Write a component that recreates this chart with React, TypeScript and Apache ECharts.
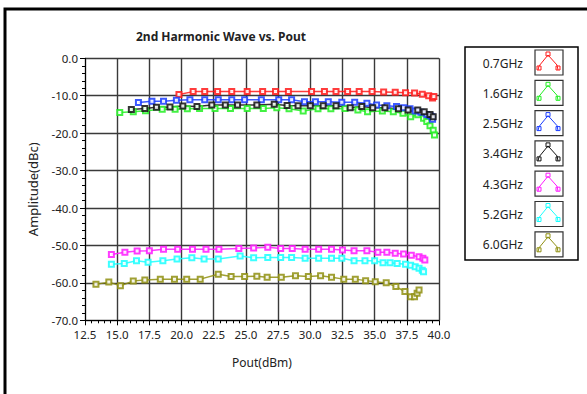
import React, { useEffect, useRef } from "react";
import * as echarts from "echarts";

const seriesNames = ["0.7GHz", "1.6GHz", "2.5GHz", "3.4GHz", "4.3GHz", "5.2GHz", "6.0GHz"];
const seriesColors = ["#ff1a1a", "#22ee22", "#1a3cff", "#111111", "#ff1aff", "#1affff", "#8f8f10"];

const x07 = [19.8, 20.9, 21.8, 22.8, 23.9, 25.1, 26.3, 27.3, 28.3, 30.1, 31.1, 32.0, 32.9, 33.8, 34.8, 35.7, 36.6, 37.4, 38.1, 38.7, 39.2, 39.5, 39.6];
const y07 = [-9.7, -8.9, -8.9, -8.9, -8.9, -8.9, -8.9, -8.9, -8.9, -8.9, -8.9, -8.9, -8.9, -8.9, -8.9, -9.0, -9.1, -9.2, -9.3, -9.6, -10.0, -10.6, -10.2];

const x16 = [15.2, 16.25, 17.2, 18.5, 19.5, 20.45, 21.4, 22.6, 23.8, 25.1, 26.35, 27.4, 28.35, 29.45, 30.6, 31.6, 32.7, 33.7, 34.45, 35.6, 36.45, 37.2, 37.8, 38.35, 38.8, 39.05, 39.3, 39.55, 39.65];
const y16 = [-14.5, -14.3, -14.0, -13.6, -13.6, -13.5, -13.4, -13.4, -13.4, -13.4, -13.4, -13.2, -13.5, -14.1, -13.5, -13.5, -13.4, -13.8, -14.3, -14.1, -14.3, -14.7, -15.6, -15.1, -16.0, -16.9, -18.0, -19.2, -20.5];

const x25 = [16.65, 17.7, 18.6, 19.6, 20.65, 21.8, 22.85, 23.9, 24.9, 26.2, 27.55, 28.55, 29.55, 30.4, 31.4, 32.45, 33.45, 34.4, 35.15, 35.95, 36.7, 37.25, 37.75, 38.15, 38.6, 39.05, 39.3, 39.45, 39.5];
const y25 = [-11.8, -11.5, -11.5, -11.2, -11.1, -11.1, -11.1, -11.1, -11.1, -11.1, -11.1, -11.1, -11.6, -11.6, -11.6, -11.75, -11.75, -12.0, -12.5, -12.7, -12.9, -13.2, -13.5, -14.1, -14.4, -15.0, -15.3, -15.6, -16.3];

const x34 = [16.1, 17.15, 18.05, 19.1, 20.1, 21.2, 22.35, 23.4, 24.35, 25.85, 27.2, 28.2, 29.05, 30.0, 31.0, 32.0, 33.1, 34.0, 34.85, 35.8, 36.85, 37.6, 38.35, 38.85, 39.3, 39.55];
const y34 = [-13.7, -13.4, -13.1, -13.0, -12.75, -12.9, -12.5, -12.5, -12.5, -12.5, -12.3, -12.6, -12.7, -12.7, -12.7, -12.7, -13.2, -12.9, -13.2, -13.2, -13.5, -13.8, -13.8, -14.3, -15.0, -15.6];

const x43 = [14.55, 15.6, 16.55, 17.5, 18.6, 19.7, 20.85, 21.9, 22.9, 24.45, 25.6, 26.7, 27.7, 28.6, 29.6, 30.65, 31.65, 32.5, 33.4, 34.4, 35.25, 35.95, 36.6, 37.25, 37.85, 38.45, 38.75, 38.9];
const y43 = [-52.4, -51.8, -51.5, -51.4, -51.0, -51.0, -51.0, -51.0, -51.0, -50.8, -50.7, -50.5, -50.8, -50.8, -51.0, -51.0, -51.0, -51.2, -51.4, -51.4, -51.8, -51.8, -52.1, -52.3, -52.6, -53.0, -53.4, -53.9];

const x52 = [14.55, 15.55, 16.5, 17.4, 18.55, 19.65, 20.8, 21.75, 22.85, 24.55, 25.6, 26.7, 27.7, 28.55, 29.6, 30.65, 31.65, 32.45, 33.4, 34.25, 35.0, 35.65, 36.2, 36.75, 37.4, 37.8, 38.15, 38.45, 38.7, 38.8];
const y52 = [-55.0, -54.8, -54.1, -54.5, -54.1, -53.6, -53.3, -53.6, -53.6, -52.8, -53.3, -53.2, -53.2, -53.2, -53.4, -53.4, -53.4, -53.4, -54.1, -54.1, -54.1, -54.6, -54.6, -54.8, -55.0, -55.3, -55.7, -56.1, -56.6, -57.0];

const x60 = [13.35, 14.35, 15.25, 16.25, 17.15, 18.35, 19.45, 20.4, 21.45, 22.85, 23.85, 24.9, 25.85, 26.65, 27.75, 28.85, 29.85, 30.8, 31.65, 32.6, 33.5, 34.3, 35.05, 35.9, 36.65, 37.35, 37.8, 38.1, 38.3, 38.45];
const y60 = [-60.4, -59.8, -60.8, -59.5, -59.2, -59.0, -59.0, -59.0, -59.0, -57.7, -58.3, -58.3, -58.2, -58.5, -58.5, -58.1, -58.3, -58.1, -58.5, -59.0, -59.0, -59.4, -59.7, -60.0, -61.0, -62.3, -63.7, -63.7, -62.8, -61.9];

const seriesX = [x07, x16, x25, x34, x43, x52, x60];
const seriesY = [y07, y16, y25, y34, y43, y52, y60];

const xAxisName = "Pout(dBm)";
const yAxisName = "Amplitude(dBc)";
const chartTitle = "2nd Harmonic Wave vs. Pout";

const FONT = "'Noto Sans', 'Open Sans', sans-serif";

export default function App() {
  const ref = useRef<HTMLDivElement>(null);
  useEffect(() => {
    if (!ref.current) return;
    const chart = echarts.init(ref.current, null, { renderer: "svg" });

    const legendX = 465;
    const legendY = 47;
    const rowH = 30.3;
    const legendChildren: any[] = [
      {
        type: "rect",
        shape: { x: legendX, y: legendY, width: 113, height: 213 },
        style: { fill: "#fff", stroke: "#000", lineWidth: 1.5 },
      },
    ];
    seriesNames.forEach((name, i) => {
      const cy = legendY + 16 + i * rowH;
      const color = seriesColors[i];
      legendChildren.push({
        type: "text",
        style: {
          text: name,
          x: 523,
          y: cy,
          align: "right",
          verticalAlign: "middle",
          fill: "#222",
          font: `12px ${FONT}`,
        },
      });
      const bx = 535;
      const by = cy - 13;
      legendChildren.push({
        type: "rect",
        shape: { x: bx, y: by, width: 28, height: 25 },
        style: { fill: "#fff", stroke: "#333", lineWidth: 1.2 },
      });
      const pts = [
        [bx + 3, by + 20],
        [bx + 4, by + 16],
        [bx + 13, by + 5],
        [bx + 22, by + 15],
        [bx + 23, by + 20],
      ];
      legendChildren.push({
        type: "polyline",
        shape: { points: pts },
        style: { stroke: color, lineWidth: 1, fill: "none" },
      });
      [[bx + 4, by + 18], [bx + 13, by + 4], [bx + 23, by + 18]].forEach((p) => {
        legendChildren.push({
          type: "rect",
          shape: { x: p[0] - 2, y: p[1] - 2, width: 4, height: 4 },
          style: { fill: "none", stroke: color, lineWidth: 1 },
        });
      });
    });

    const option: any = {
      animation: false,
      backgroundColor: "#fff",
      title: {
        text: chartTitle,
        left: 216,
        top: 25,
        textAlign: "center",
        textStyle: { fontFamily: FONT, fontSize: 12, fontWeight: "bold", color: "#222" },
      },
      grid: { left: 85, right: 148, top: 58.3, bottom: 73.7 },
      xAxis: {
        type: "value",
        min: 12.5,
        max: 40,
        interval: 2.5,
        name: xAxisName,
        nameLocation: "middle",
        nameGap: 36,
        nameTextStyle: { fontFamily: FONT, fontSize: 12, color: "#222" },
        axisLine: { show: true, onZero: false, lineStyle: { color: "#000", width: 1 } },
        axisTick: { show: true, length: 5, lineStyle: { color: "#000" } },
        minorTick: { show: true, splitNumber: 5, length: 3, lineStyle: { color: "#000" } },
        splitLine: { show: true, lineStyle: { color: "#3a3a3a", width: 1.4 } },
        axisLabel: {
          fontFamily: FONT,
          fontSize: 11.5,
          color: "#222",
          margin: 8,
          formatter: (v: number) => v.toFixed(1),
        },
      },
      yAxis: {
        type: "value",
        min: -70,
        max: 0,
        interval: 10,
        name: yAxisName,
        nameLocation: "middle",
        nameGap: 46,
        nameRotate: 90,
        nameTextStyle: { fontFamily: FONT, fontSize: 13, color: "#222" },
        axisLine: { show: true, onZero: false, lineStyle: { color: "#000", width: 1 } },
        axisTick: { show: true, length: 5, lineStyle: { color: "#000" } },
        minorTick: { show: true, splitNumber: 5, length: 3, lineStyle: { color: "#000" } },
        splitLine: { show: true, lineStyle: { color: "#3a3a3a", width: 1.4 } },
        axisLabel: {
          fontFamily: FONT,
          fontSize: 11.5,
          color: "#222",
          margin: 7,
          formatter: (v: number) => v.toFixed(1),
        },
      },
      series: seriesNames.map((name, i) => ({
        name,
        type: "line",
        data: seriesX[i].map((x, j) => [x, seriesY[i][j]]),
        symbol: "emptyRect",
        symbolSize: 5,
        showSymbol: true,
        lineStyle: { color: seriesColors[i], width: 1.5, opacity: 0.85 },
        itemStyle: { color: seriesColors[i], borderColor: seriesColors[i], borderWidth: 1, opacity: 0.85 },
        z: 3,
      })),
      graphic: [
        {
          type: "rect",
          shape: { x: 5, y: 9, width: 700, height: 500 },
          style: { fill: "none", stroke: "#000", lineWidth: 3 },
          z: 100,
        },
        { type: "group", children: legendChildren },
      ],
    };
    chart.setOption(option);
    return () => chart.dispose();
  }, []);
  return (
    <div
      ref={ref}
      style={{ position: "fixed", left: 0, top: 0, width: 587, height: 394 }}
    />
  );
}
